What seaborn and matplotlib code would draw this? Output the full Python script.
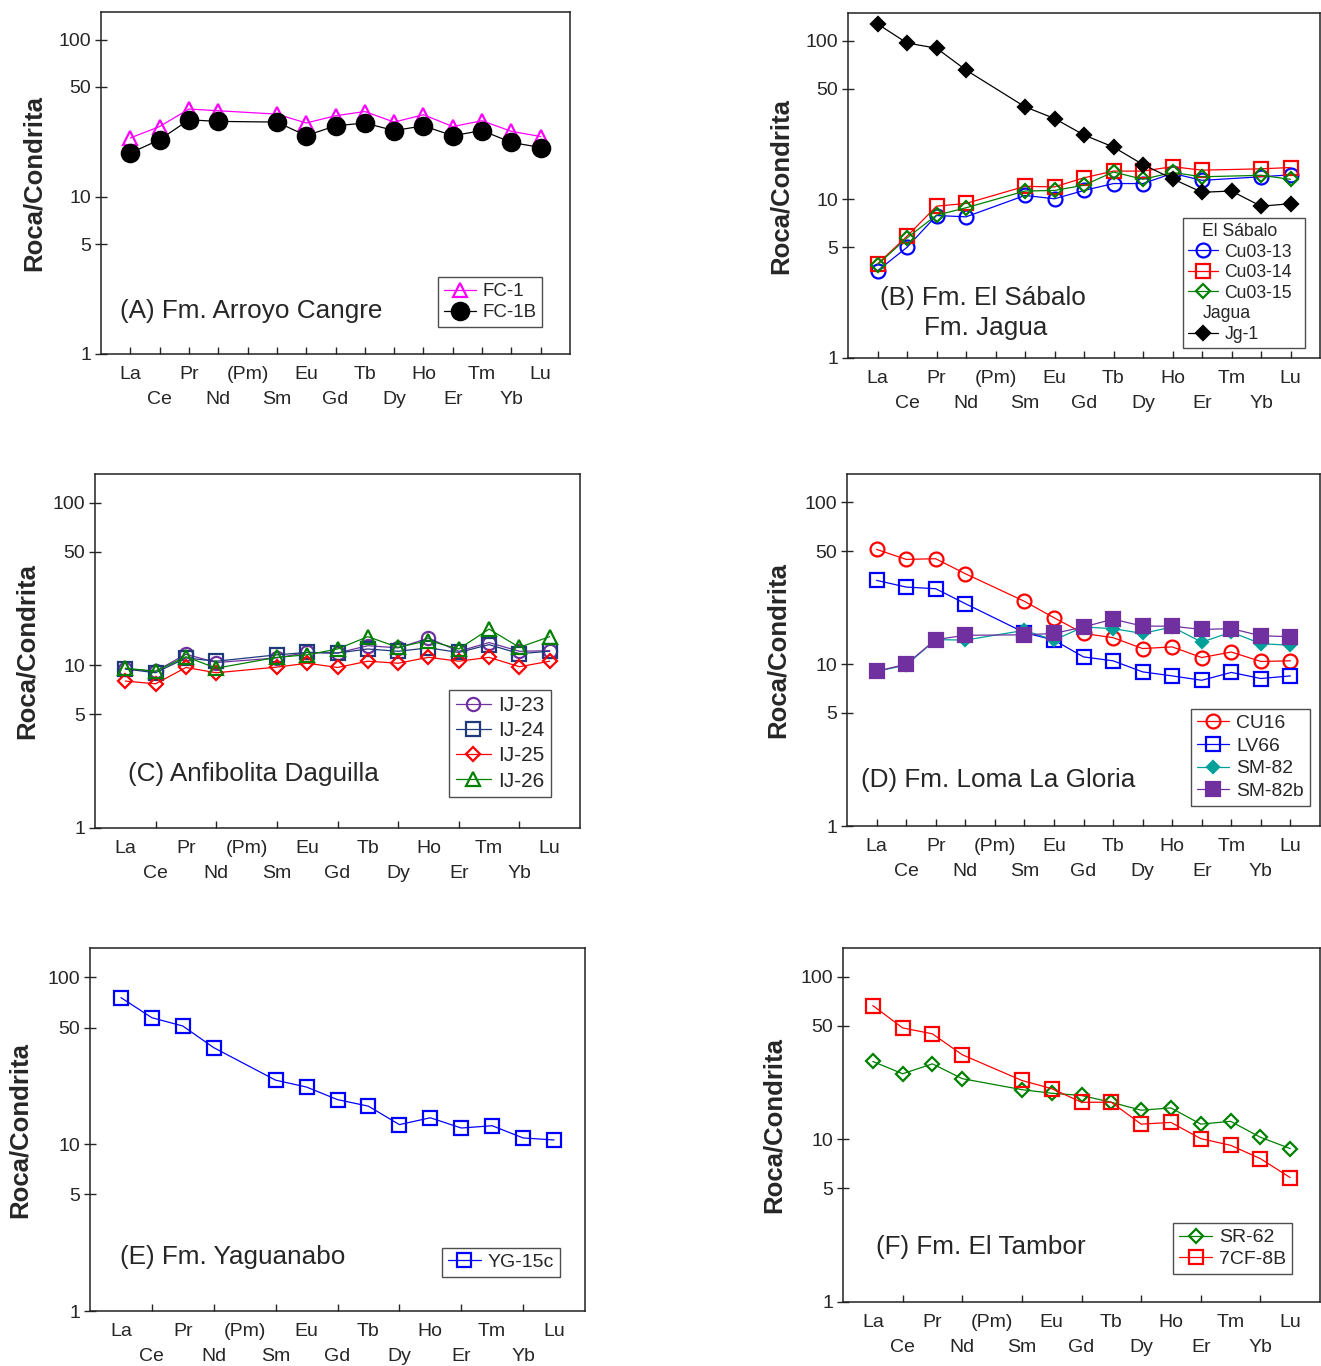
import numpy as np
import pandas as pd
import matplotlib
matplotlib.use('Agg')
import matplotlib.pyplot as plt
import seaborn as sns
from matplotlib.lines import Line2D

sns.set_theme(style='white')
plt.rcParams['font.family'] = ['Liberation Sans', 'DejaVu Sans']

nan = np.nan
# Elementos (La..Lu), normalizados a condrita
ree = ['La', 'Ce', 'Pr', 'Nd', '(Pm)', 'Sm', 'Eu', 'Gd', 'Tb', 'Dy', 'Ho', 'Er', 'Tm', 'Yb', 'Lu']

# (A) Fm. Arroyo Cangre
fc1 = [23.7, 28.0, 36.2, 35.3, nan, 33.6, 29.5, 32.8, 34.9, 29.9, 33.3, 28.0, 30.5, 26.1, 24.2]
fc1b = [19.0, 23.1, 30.9, 30.2, nan, 29.9, 24.5, 28.3, 29.5, 26.4, 28.3, 24.5, 26.4, 22.2, 20.6]

# (B) Fm. El Sabalo / Fm. Jagua
cu0313 = [3.55, 4.99, 7.92, 7.77, nan, 10.6, 10.1, 11.4, 12.6, 12.6, 14.6, 13.2, nan, 13.9, 14.3]
cu0314 = [3.92, 5.86, 9.07, 9.44, nan, 12.1, 12.0, 13.7, 15.1, 15.1, 16.1, 15.3, nan, 15.6, 15.9]
cu0315 = [3.88, 5.72, 7.96, 8.86, nan, 11.3, 11.4, 12.3, 14.9, 13.4, 14.8, 13.9, nan, 14.2, 13.4]
jg1 = [128, 97, 90, 65.5, nan, 38.4, 32.4, 25.5, 21.4, 16.6, 13.5, 11.1, 11.3, 9.07, 9.4]

# (C) Anfibolita Daguilla
ij23 = [9.5, 9.2, 11.7, 10.4, nan, 11.1, 12.0, 11.9, 13.2, 12.8, 14.7, 12.2, 13.8, 12.2, 12.3]
ij24 = [9.5, 9.0, 11.1, 10.6, nan, 11.6, 12.0, 11.9, 12.6, 12.2, 12.8, 12.0, 13.4, 11.8, 12.2]
ij25 = [8.0, 7.7, 9.7, 9.0, nan, 9.75, 10.3, 9.7, 10.6, 10.3, 11.2, 10.6, 11.2, 9.8, 10.6]
ij26 = [9.6, 9.2, 11.3, 9.6, nan, 11.2, 11.6, 12.6, 15.0, 12.9, 14.2, 12.6, 16.7, 12.9, 15.0]

# (D) Fm. Loma La Gloria
cu16 = [51.3, 44.5, 44.9, 36.3, nan, 24.5, 19.4, 15.5, 14.6, 12.5, 12.8, 11.0, 11.9, 10.4, 10.5]
lv66 = [33.0, 30.0, 29.3, 23.7, nan, 15.7, 14.1, 11.1, 10.5, 8.97, 8.47, 7.96, 8.9, 8.16, 8.47]
sm82 = [9.05, 9.86, 14.2, 14.1, nan, 16.2, 14.1, 17.0, 16.6, 15.5, 17.0, 13.7, 15.8, 13.4, 13.1]
sm82b = [9.05, 10.0, 14.2, 15.1, nan, 15.2, 15.5, 17.0, 19.0, 17.2, 17.2, 16.4, 16.6, 15.0, 14.8]

# (E) Fm. Yaguanabo
yg15c = [75.6, 57.3, 51.1, 37.9, nan, 24.2, 22.0, 18.5, 16.9, 13.1, 14.4, 12.5, 12.9, 10.9, 10.6]

# (F) Fm. El Tambor
sr62 = [30.1, 25.3, 29.1, 23.6, nan, 20.2, 19.2, 18.6, 16.9, 15.1, 15.6, 12.4, 12.9, 10.3, 8.77]
cf8b = [66.4, 48.4, 44.5, 33.1, nan, 23.0, 20.5, 16.9, 16.9, 12.4, 12.7, 10.1, 9.19, 7.61, 5.82]

W, H = 1321, 1366
fig = plt.figure(figsize=(W / 100, H / 100), dpi=100)


def px_axes(left, right, top, bottom):
    return fig.add_axes([left / W, 1 - bottom / H, (right - left) / W, (bottom - top) / H])


def serie(ax, vals, label, color, marker, ms, filled=False):
    df = pd.DataFrame({'x': np.arange(len(ree)), 'y': vals}).dropna()
    sns.lineplot(data=df, x='x', y='y', ax=ax, estimator=None, errorbar=None,
                 color=color, linewidth=0.9, marker=marker, markersize=ms,
                 markerfacecolor=color if filled else 'none', markeredgecolor=color,
                 markeredgewidth=1.6, label=label, legend=False)


def setup(ax, title_lines, all_ticks=True, ylab_x=-0.117):
    ax.set_yscale('log')
    ax.set_ylim(1, 150)
    ax.set_xlim(-1, 15)
    ax.set_yticks([1, 5, 10, 50, 100])
    ax.set_yticklabels(['1', '5', '10', '50', '100'])
    ax.yaxis.set_minor_locator(matplotlib.ticker.NullLocator())
    ax.tick_params(axis='y', direction='inout', length=8, width=1, labelsize=14, pad=3, left=True)
    xt = list(range(15)) if all_ticks else list(range(1, 15, 2))
    ax.set_xticks(xt)
    ax.set_xticklabels([])
    ax.tick_params(axis='x', direction='in', length=5, width=1, bottom=True)
    for s in ax.spines.values():
        s.set_color('#222222')
        s.set_linewidth(1.1)
    ax.set_xlabel('')
    ax.set_ylabel('Roca/Condrita', fontsize=18.5, fontweight='bold')
    ax.yaxis.set_label_coords(ylab_x, 0.5)
    for i, name in enumerate(ree):
        ax.annotate(name, xy=(i, 0), xycoords=ax.get_xaxis_transform(),
                    xytext=(0, -15 - 18 * (i % 2)), textcoords='offset points',
                    ha='center', va='center', fontsize=14)
    for tx, ty, txt in title_lines:
        ax.text(tx, ty, txt, transform=ax.transAxes, fontsize=18.8, va='center', ha='left')


def leyenda(ax, bx, by, fs, spacing=0.25, handles=None):
    kw = dict(loc='lower right', bbox_to_anchor=(bx, by), fontsize=fs, frameon=True,
              fancybox=False, edgecolor='#222222', borderaxespad=0, borderpad=0.3,
              labelspacing=spacing, handletextpad=0.35, handlelength=1.7)
    if handles is not None:
        kw['handles'] = handles
    leg = ax.legend(**kw)
    leg.get_frame().set_linewidth(1.0)
    return leg


# (A)
axA = px_axes(101, 570, 12, 354)
serie(axA, fc1, 'FC-1', '#FF00FF', '^', 10)
serie(axA, fc1b, 'FC-1B', 'black', 'o', 12.5, filled=True)
setup(axA, [(0.04, 0.126, '(A) Fm. Arroyo Cangre')], ylab_x=-0.117)
leyenda(axA, 0.940, 0.079, 13.5, spacing=0.22)

# (B)
axB = px_axes(848, 1320, 13, 358)
serie(axB, cu0313, 'Cu03-13', '#0000FF', 'o', 10)
serie(axB, cu0314, 'Cu03-14', '#FF0000', 's', 10)
serie(axB, cu0315, 'Cu03-15', '#008000', 'D', 7)
serie(axB, jg1, 'Jg-1', 'black', 'D', 7, filled=True)
setup(axB, [(0.068, 0.174, '(B) Fm. El Sábalo'), (0.161, 0.087, 'Fm. Jagua')], ylab_x=-0.117)
hs, ls = axB.get_legend_handles_labels()
blank1 = Line2D([], [], linestyle='none', marker=None, label='El Sábalo')
blank2 = Line2D([], [], linestyle='none', marker=None, label='Jagua')
legB = leyenda(axB, 0.968, 0.029, 12.7, spacing=0.2, handles=[blank1] + hs[:3] + [blank2] + hs[3:])

# (C)
axC = px_axes(95, 580, 474, 828)
serie(axC, ij23, 'IJ-23', '#7030A0', 'o', 9.5)
serie(axC, ij24, 'IJ-24', '#1F3A7A', 's', 9.5)
serie(axC, ij25, 'IJ-25', '#FF0000', 'D', 7)
serie(axC, ij26, 'IJ-26', '#008000', '^', 10)
setup(axC, [(0.068, 0.153, '(C) Anfibolita Daguilla')], all_ticks=False, ylab_x=-0.115)
leyenda(axC, 0.940, 0.088, 15, spacing=0.3)

# (D)
axD = px_axes(847, 1320, 474, 826)
serie(axD, cu16, 'CU16', '#FF0000', 'o', 10)
serie(axD, lv66, 'LV66', '#0000FF', 's', 10)
serie(axD, sm82, 'SM-82', '#00A09A', 'D', 6.5, filled=True)
serie(axD, sm82b, 'SM-82b', '#7030A0', 's', 9.5, filled=True)
setup(axD, [(0.030, 0.131, '(D) Fm. Loma La Gloria')], ylab_x=-0.120)
leyenda(axD, 0.978, 0.057, 13.9, spacing=0.27)

# (E)
axE = px_axes(90, 585, 948, 1311)
serie(axE, yg15c, 'YG-15c', '#0000FF', 's', 10.5)
setup(axE, [(0.061, 0.149, '(E) Fm. Yaguanabo')], all_ticks=False, ylab_x=-0.117)
leyenda(axE, 0.949, 0.094, 14.0)

# (F)
axF = px_axes(843, 1320, 948, 1302)
serie(axF, sr62, 'SR-62', '#008000', 'D', 7)
serie(axF, cf8b, '7CF-8B', '#FF0000', 's', 10.5)
setup(axF, [(0.069, 0.155, '(F) Fm. El Tambor')], all_ticks=False, ylab_x=-0.119)
leyenda(axF, 0.941, 0.079, 14, spacing=0.22)

# encabezados de la leyenda (B) corridos a la izquierda
fig.canvas.draw()
rend = fig.canvas.get_renderer()
for t in legB.get_texts():
    if t.get_text() in ('El Sábalo', 'Jagua'):
        bb = t.get_window_extent(rend)
        fig.text((bb.x0 - 22) / W, (bb.y0 + bb.y1) / 2 / H, t.get_text(),
                 fontsize=12.7, va='center', ha='left')
        t.set_visible(False)

fig.savefig('out.png', dpi=100)
